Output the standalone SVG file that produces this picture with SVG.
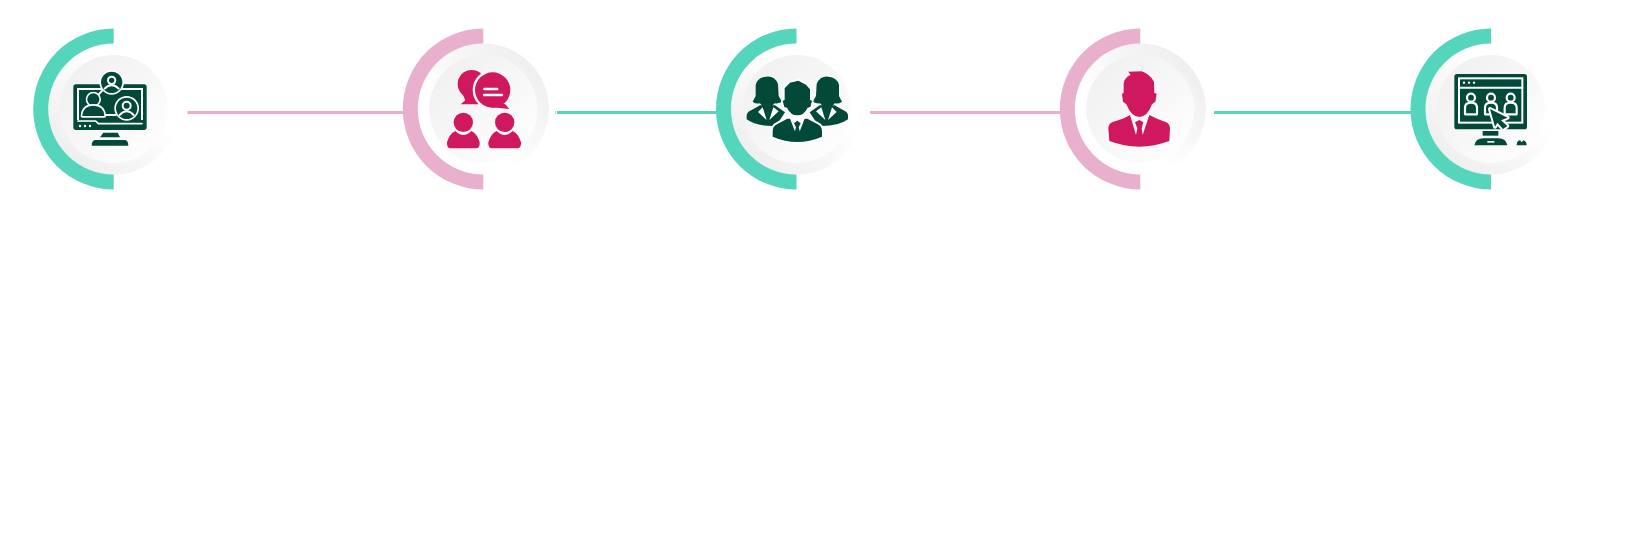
<svg xmlns="http://www.w3.org/2000/svg" width="1634" height="554" viewBox="0 0 1634 554">
<style>
.tl{fill:#55d5bb}.pk{fill:#e9b0cd}.d{fill:#02493a}.m{fill:#d0185f}
.w{fill:none;stroke:#fff;stroke-linecap:round;stroke-linejoin:round}
.o{stroke:#fff;stroke-linejoin:round;paint-order:stroke}
</style>
<defs>
<linearGradient id="oA" x1="0.15" y1="0.9" x2="0.85" y2="0.15"><stop offset="0" stop-color="#eeeeee"/><stop offset="0.7" stop-color="#fff"/></linearGradient>
<linearGradient id="oB" x1="0.85" y1="0.1" x2="0.15" y2="0.85"><stop offset="0" stop-color="#eeeeee"/><stop offset="0.7" stop-color="#fff"/></linearGradient>
<linearGradient id="iA" x1="0.1" y1="0.1" x2="0.9" y2="0.9"><stop offset="0" stop-color="#f0f0f0"/><stop offset="1" stop-color="#fefefe"/></linearGradient>
<path id="arc" d="M0-80.500A80.500 80.500 0 0 0 0 80.500V65.500A65.500 65.500 0 0 1 0-65.500Z"/>
<path id="body" d="M46 198Q70 222 94 198Q112 206 119 232Q120 250 108 250H32Q20 250 21 232Q28 206 46 198Z"/>
<g id="woman">
<path d="M20 135Q22 125 35 120L60 106H105L135 127L108 168Q50 170 20 148Z"/>
<path d="M68 112L54 126L80 150Z M100 112L116 124L88 150Z" fill="#fff"/>
<path d="M80 20Q104 18 114 42L116 78L126 95Q114 102 104 100Q92 114 81 114Q70 114 60 100Q48 103 38 95L47 78L47 45Q52 22 80 20Z"/>
</g>
</defs>
<g id="connectors">
<rect class="pk" x="187.500" y="111" width="216" height="3"/>
<rect class="tl" x="555" y="111" width="1" height="3" opacity=".6"/>
<rect class="tl" x="557" y="111" width="160" height="3"/>
<rect class="pk" x="870" y="111" width="191" height="3"/>
<rect class="tl" x="1214" y="111" width="198" height="3"/>
</g>
<g id="node-1">
<circle cx="113.700" cy="109" r="65.500" fill="url(#oA)"/><circle cx="113.700" cy="109" r="54" fill="url(#iA)"/>
<use href="#arc" class="tl" x="113.700" y="109"/>
<g transform="translate(65 65) scale(.33333)">
<rect class="d" x="25" y="58" width="220" height="137" rx="8"/>
<rect x="39" y="72" width="192" height="96" fill="none" stroke="#fff" stroke-width="6"/>
<g fill="#fff"><circle cx="45" cy="183" r="3.500"/><circle cx="60" cy="183" r="3.500"/><circle cx="75" cy="183" r="3.500"/></g>
<path class="d" d="M36 170H92L100 180H234V165H36Z"/>
<path class="w" d="M39 168H92L100 176H231" stroke-width="5"/>
<path class="d" d="M115 203H158L165 217H105Z"/>
<path class="d" d="M80 242Q80 225 92 225H178Q190 225 190 242Z"/>
<path class="w" d="M98 92L112 76M118 150H152" stroke-width="6"/>
<circle cx="140" cy="52" r="32" class="d o" stroke-width="10"/>
<circle cx="140" cy="46" r="11" class="w" stroke-width="6"/>
<path class="w" d="M119 71Q140 50 161 71" stroke-width="6"/>
<circle cx="85" cy="103" r="18" class="d o" stroke-width="10"/>
<path class="d o" stroke-width="10" d="M52 153Q54 122 85 122Q116 122 118 153Z"/>
<circle cx="185" cy="130" r="32" class="d o" stroke-width="10"/>
<circle cx="185" cy="122" r="12" class="w" stroke-width="6"/>
<path class="w" d="M164 150Q185 128 206 150" stroke-width="6"/>
</g>
</g>
<g id="node-2">
<circle cx="483.300" cy="109" r="65.500" fill="url(#oB)"/><circle cx="483.300" cy="109" r="54" fill="url(#iA)"/>
<use href="#arc" class="pk" x="483.300" y="109"/>
<g transform="translate(440 65) scale(.33333)">
<circle cx="95" cy="57" r="42" class="m"/>
<path class="m" d="M68 88L76 106L62 118H115V80Z"/>
<circle cx="158" cy="75" r="60" fill="#f8f8f8"/>
<circle cx="158" cy="75" r="53" class="m"/>
<path class="m" d="M140 125L208 132L196 118L170 110Z"/>
<path class="w" d="M133 72H172M132 90H186" stroke-width="7"/>
<circle cx="70" cy="172" r="29" class="m"/><circle cx="194" cy="172" r="29" class="m"/>
<use href="#body" class="m"/>
<use href="#body" class="m" x="124"/>
</g>
</g>
<g id="node-3">
<circle cx="796.500" cy="109" r="65.500" fill="url(#oA)"/><circle cx="796.500" cy="109" r="54" fill="url(#iA)"/>
<use href="#arc" class="tl" x="796.500" y="109"/>
<g transform="translate(740 70) scale(.33333)">
<use href="#woman" class="d"/>
<use href="#woman" class="d" transform="matrix(-1 0 0 1 344 0)"/>
<path class="d o" stroke-width="12" d="M98 184Q98 168 112 162L142 146H202L232 162Q246 168 246 184V200Q172 232 98 200Z"/>
<path d="M146 136L168 192L172 184L176 192L198 136Z" fill="#fff"/>
<path class="d" d="M162 160L172 152L182 160L176 172L181 190L172 200L163 190L168 172Z"/>
<path class="d o" stroke-width="10" d="M150 38L175 32L198 44L210 58V90L216 92L211 111L203 113Q192 136 172 136Q152 136 141 113L133 111L128 92L134 90V55Z"/>
</g>
</g>
<g id="node-4">
<circle cx="1140.300" cy="109" r="65.500" fill="url(#oB)"/><circle cx="1140.300" cy="109" r="54" fill="url(#iA)"/>
<use href="#arc" class="pk" x="1140.300" y="109"/>
<g transform="translate(1100 65) scale(.33333)">
<path class="m" d="M25 190Q25 175 40 170Q70 162 90 150L108 210L112 190L105 172L118 165L130 172L125 190L128 210L148 150Q170 162 195 170Q210 175 210 190L208 228Q118 262 28 228Z"/>
<path class="m" d="M85 20L125 19Q150 28 162 50L163 84L170 86L166 110L156 118Q142 156 118 156Q94 156 79 118L69 110L66 86L71 84V56Q74 36 92 30Z"/>
</g>
</g>
<g id="node-5">
<circle cx="1491" cy="109" r="65.500" fill="url(#oA)"/><circle cx="1491" cy="109" r="54" fill="url(#iA)"/>
<use href="#arc" class="tl" x="1491" y="109"/>
<g transform="translate(1445 65) scale(.33333)">
<rect class="d" x="28" y="27" width="218" height="166" rx="8"/>
<rect x="42" y="40" width="190" height="133" fill="none" stroke="#fff" stroke-width="6"/>
<path class="w" d="M42 68H232" stroke-width="6"/>
<g fill="#fff"><circle cx="57" cy="53" r="3.500"/><circle cx="72" cy="53" r="3.500"/><circle cx="87" cy="53" r="3.500"/></g>
<g class="w" stroke-width="6.500">
<circle cx="78" cy="98" r="12"/><circle cx="138" cy="98" r="12"/><circle cx="197" cy="98" r="12"/>
<path d="M60 148V128Q60 113 78 113Q96 113 96 128V148Z"/>
<path d="M120 148V128Q120 113 138 113Q156 113 156 128V148Z"/>
<path d="M179 148V128Q179 113 197 113Q215 113 215 128V148Z"/>
</g>
<path class="d o" stroke-width="12" d="M135 132L188 158L168 166L187 183L174 192L157 173L150 185Z"/>
<rect class="d" x="113" y="198" width="47" height="14"/>
<path class="d" d="M88 241Q92 220 115 220H160Q183 220 187 241Z"/>
<rect x="127" y="228" width="21" height="5" fill="#fff"/>
<path class="d" d="M215 241Q215 228 225 226L230 232L235 226Q245 228 245 241Z"/>
</g>
</g>
</svg>
